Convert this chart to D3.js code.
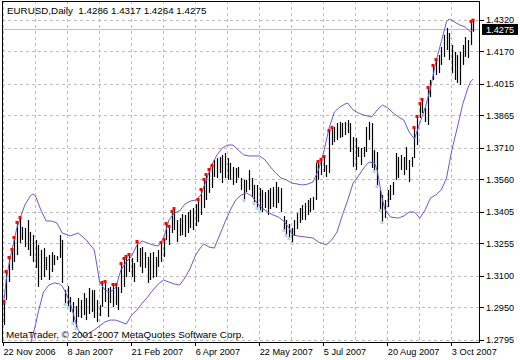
<!DOCTYPE html>
<html><head><meta charset="utf-8">
<script src="https://cdn.jsdelivr.net/npm/d3@7/dist/d3.min.js"></script>
<style>html,body{margin:0;padding:0;background:#fff;}svg{display:block;}text{font-family:"Liberation Sans",Arial,sans-serif;}</style>
</head><body><svg id="c" width="520" height="360"></svg>
<script>
// ---- data (EURUSD daily bars, high/low) ----
const highs = [1.2976,1.3119,1.3186,1.3224,1.3281,1.3353,1.3376,1.3334,1.3329,1.3367,1.3310,1.3295,1.3272,1.3248,1.3224,1.3233,1.3191,1.3200,1.3214,1.3200,1.3195,1.3295,1.3272,1.3033,1.3052,1.3000,1.2976,1.2957,1.2995,1.2986,1.3019,1.2995,1.3043,1.3033,1.3033,1.2986,1.2962,1.3067,1.3071,1.3043,1.3048,1.3057,1.3057,1.3048,1.3157,1.3181,1.3191,1.3200,1.3186,1.3162,1.3262,1.3233,1.3238,1.3214,1.3191,1.3210,1.3214,1.3191,1.3224,1.3257,1.3272,1.3348,1.3334,1.3405,1.3419,1.3367,1.3376,1.3395,1.3391,1.3405,1.3415,1.3424,1.3443,1.3462,1.3510,1.3558,1.3581,1.3605,1.3624,1.3653,1.3662,1.3667,1.3677,1.3686,1.3662,1.3639,1.3620,1.3615,1.3620,1.3567,1.3558,1.3558,1.3605,1.3567,1.3534,1.3534,1.3519,1.3510,1.3500,1.3510,1.3519,1.3524,1.3548,1.3524,1.3519,1.3386,1.3367,1.3348,1.3329,1.3367,1.3400,1.3424,1.3438,1.3448,1.3462,1.3472,1.3477,1.3639,1.3643,1.3653,1.3667,1.3629,1.3791,1.3805,1.3810,1.3829,1.3834,1.3829,1.3834,1.3843,1.3829,1.3762,1.3758,1.3715,1.3710,1.3715,1.3810,1.3834,1.3829,1.3700,1.3691,1.3510,1.3486,1.3462,1.3510,1.3534,1.3548,1.3686,1.3667,1.3677,1.3667,1.3715,1.3653,1.3667,1.3805,1.3858,1.3920,1.3939,1.3901,1.3996,1.4034,1.4101,1.4129,1.4153,1.4191,1.4249,1.4282,1.4258,1.4201,1.4168,1.4153,1.4168,1.4201,1.4239,1.4225,1.4311,1.4317];
const lows = [1.2867,1.2986,1.3071,1.3129,1.3167,1.3200,1.3257,1.3272,1.3238,1.3224,1.3195,1.3167,1.3138,1.3048,1.3081,1.3095,1.3129,1.3081,1.3119,1.3152,1.3176,1.3186,1.3067,1.2967,1.2952,1.2928,1.2876,1.2852,1.2905,1.2900,1.2914,1.2890,1.2919,1.2928,1.2900,1.2881,1.2909,1.2952,1.2976,1.2905,1.2971,1.2952,1.2962,1.2938,1.3019,1.3048,1.3095,1.3119,1.3095,1.3071,1.3167,1.3143,1.3114,1.3138,1.3067,1.3081,1.3091,1.3095,1.3143,1.3167,1.3191,1.3272,1.3248,1.3305,1.3319,1.3262,1.3291,1.3295,1.3286,1.3305,1.3329,1.3319,1.3338,1.3357,1.3391,1.3424,1.3462,1.3496,1.3519,1.3572,1.3567,1.3591,1.3543,1.3567,1.3558,1.3558,1.3534,1.3543,1.3567,1.3510,1.3462,1.3500,1.3510,1.3477,1.3448,1.3424,1.3410,1.3405,1.3424,1.3391,1.3419,1.3429,1.3424,1.3448,1.3405,1.3319,1.3295,1.3281,1.3257,1.3291,1.3324,1.3353,1.3367,1.3367,1.3391,1.3405,1.3415,1.3462,1.3558,1.3581,1.3596,1.3572,1.3591,1.3724,1.3739,1.3748,1.3758,1.3762,1.3772,1.3781,1.3691,1.3620,1.3605,1.3667,1.3629,1.3667,1.3691,1.3748,1.3615,1.3600,1.3529,1.3415,1.3357,1.3376,1.3429,1.3462,1.3486,1.3558,1.3567,1.3605,1.3581,1.3605,1.3548,1.3620,1.3662,1.3724,1.3853,1.3877,1.3834,1.3820,1.3953,1.4034,1.4058,1.4067,1.4106,1.4144,1.4177,1.4129,1.4067,1.4034,1.4020,1.4010,1.4106,1.4144,1.4139,1.4201,1.4264];
// bars flagged by the indicator: red above the high, light blue below the low
const redMarks = [0,1,2,3,4,5,6,37,38,41,42,44,45,46,47,50,59,60,61,62,63,64,73,74,75,76,77,78,118,119,120,122,123,154,155,156,157,159,161,162,175,176];
const blueMarks = [23,24,26,27,90,94,95,96,105,106,107,108,139,140,141,142];
// Bollinger bands: [bar index, price]
const upperBand = [[0,1.2962],[1,1.3081],[2,1.3152],[3,1.3214],[4,1.3272],[5,1.3329],[6,1.3367],[8,1.3438],[10,1.3481],[11,1.3491],[12,1.3481],[14,1.3415],[16,1.3362],[18,1.3362],[20,1.3353],[22,1.3305],[25,1.3291],[28,1.3305],[31,1.3272],[34,1.3224],[35,1.3152],[36,1.3071],[38,1.3033],[40,1.3024],[42,1.3043],[44,1.3129],[46,1.3167],[48,1.3195],[50,1.3248],[52,1.3267],[54,1.3257],[56,1.3248],[58,1.3243],[60,1.3281],[62,1.3367],[64,1.3400],[66,1.3410],[68,1.3443],[70,1.3457],[72,1.3462],[74,1.3486],[76,1.3558],[78,1.3629],[80,1.3677],[82,1.3710],[84,1.3724],[86,1.3724],[88,1.3700],[90,1.3677],[92,1.3672],[96,1.3672],[98,1.3653],[100,1.3620],[102,1.3591],[104,1.3567],[106,1.3558],[108,1.3543],[112,1.3534],[114,1.3538],[116,1.3548],[118,1.3605],[120,1.3691],[122,1.3805],[124,1.3882],[126,1.3905],[128,1.3920],[129,1.3924],[131,1.3891],[133,1.3877],[135,1.3867],[138,1.3858],[140,1.3891],[142,1.3915],[144,1.3901],[146,1.3877],[148,1.3858],[150,1.3843],[152,1.3786],[154,1.3753],[156,1.3829],[158,1.3901],[160,1.3996],[162,1.4120],[164,1.4215],[166,1.4311],[167,1.4325],[169,1.4311],[171,1.4296],[173,1.4287],[175,1.4263],[176,1.4277]];
const lowerBand = [[8,1.2700],[10,1.2771],[12,1.2867],[13,1.2928],[15,1.3024],[17,1.3057],[19,1.3067],[21,1.3062],[22,1.3052],[23,1.3029],[25,1.2971],[26,1.2928],[27,1.2881],[28,1.2843],[30,1.2809],[32,1.2828],[34,1.2843],[36,1.2862],[38,1.2881],[40,1.2890],[42,1.2890],[44,1.2881],[46,1.2871],[48,1.2914],[50,1.2938],[52,1.2971],[54,1.3000],[56,1.3033],[58,1.3062],[60,1.3081],[62,1.3071],[64,1.3062],[66,1.3057],[68,1.3091],[70,1.3138],[72,1.3200],[74,1.3238],[75,1.3253],[77,1.3238],[79,1.3233],[81,1.3295],[83,1.3357],[85,1.3415],[87,1.3462],[89,1.3486],[91,1.3496],[93,1.3481],[95,1.3448],[97,1.3424],[99,1.3405],[101,1.3391],[103,1.3381],[105,1.3362],[107,1.3329],[108,1.3300],[110,1.3291],[113,1.3286],[116,1.3281],[118,1.3262],[121,1.3248],[123,1.3272],[125,1.3310],[127,1.3391],[129,1.3462],[131,1.3543],[133,1.3577],[135,1.3615],[137,1.3643],[139,1.3639],[140,1.3605],[141,1.3534],[142,1.3462],[143,1.3415],[145,1.3381],[148,1.3376],[150,1.3386],[152,1.3405],[154,1.3405],[156,1.3376],[158,1.3415],[160,1.3472],[162,1.3486],[164,1.3510],[166,1.3567],[168,1.3700],[170,1.3805],[172,1.3915],[174,1.3996],[175,1.4025],[176,1.4039]];
const priceTicks = [1.2795,1.2950,1.3100,1.3255,1.3405,1.3560,1.3710,1.3865,1.4015,1.4170,1.4320];
const dateLabels = ["22 Nov 2006","8 Jan 2007","21 Feb 2007","6 Apr 2007","22 May 2007","5 Jul 2007","20 Aug 2007","3 Oct 2007"];
const dateIdx = [0,24,48,72,96,120,144,168];
const gridIdx = [0,12,24,36,48,60,72,84,96,108,120,132,144,156,168];
const symbol = "EURUSD,Daily";
const lastOHLC = ["1.4286","1.4317","1.4264","1.4275"];
const bid = 1.4275;

// ---- layout ----
const L=2, R=480, T=1, B=342;
const svg = d3.select("#c");
const x = d3.scaleLinear().domain([0,176]).range([3.5,473.2]);
const y = d3.scaleLinear().domain([1.2795,1.4320]).range([340,20]);
const px = i => Math.round(x(i)) + 0.5;

svg.append("rect").attr("width",520).attr("height",360).attr("fill","#fff");
svg.append("clipPath").attr("id","clip").append("rect").attr("x",L).attr("y",T).attr("width",R-L).attr("height",B-T);
const g = svg.append("g").attr("clip-path","url(#clip)");

// grid
g.selectAll(".hg").data(priceTicks).join("line")
  .attr("x1",L).attr("x2",R).attr("y1",d=>Math.round(y(d))+0.5).attr("y2",d=>Math.round(y(d))+0.5)
  .attr("stroke","#bdbdbd").attr("stroke-dasharray","3,3");
g.selectAll(".vg").data(gridIdx).join("line")
  .attr("x1",d=>Math.round(x(d)-0.5)+0.5).attr("x2",d=>Math.round(x(d)-0.5)+0.5).attr("y1",T).attr("y2",B)
  .attr("stroke","#bdbdbd").attr("stroke-dasharray","3,3");

// bid line
g.append("line").attr("x1",L).attr("x2",R).attr("y1",Math.round(y(bid))+0.5).attr("y2",Math.round(y(bid))+0.5)
  .attr("stroke","#c0c0c0");

// bars
g.selectAll(".bar").data(highs).join("line")
  .attr("x1",(d,i)=>px(i)).attr("x2",(d,i)=>px(i))
  .attr("y1",d=>y(d)).attr("y2",(d,i)=>y(lows[i]))
  .attr("stroke","#000").attr("stroke-width",1.2);

// bands
const line = d3.line().x(d=>x(d[0])).y(d=>y(d[1]));
g.append("path").attr("d",line(upperBand)).attr("fill","none").attr("stroke","#6a5acd").attr("stroke-width",1);
g.append("path").attr("d",line(lowerBand)).attr("fill","none").attr("stroke","#6a5acd").attr("stroke-width",1);

// markers
g.selectAll(".rm").data(redMarks).join("rect")
  .attr("x",i=>px(i)-2).attr("y",i=>y(highs[i])-2).attr("width",3).attr("height",3).attr("fill","#ff0000");
g.selectAll(".bm").data(blueMarks).join("rect")
  .attr("x",i=>px(i)-2).attr("y",i=>y(lows[i])-1).attr("width",3).attr("height",3).attr("fill","#add8e6");

// frame
svg.append("rect").attr("x",L+0.5).attr("y",T+0.5).attr("width",R-L-1).attr("height",B-T).attr("fill","none").attr("stroke","#000");

// y axis
const fs = 9.2;
svg.selectAll(".yt").data(priceTicks).join("line")
  .attr("x1",R).attr("x2",R+4).attr("y1",d=>Math.round(y(d))+0.5).attr("y2",d=>Math.round(y(d))+0.5).attr("stroke","#000");
svg.selectAll(".yl").data(priceTicks).join("text")
  .attr("x",R+6).attr("y",d=>y(d)+3.3).attr("font-size",fs).attr("fill","#000").text(d=>d.toFixed(4));
// bid label
svg.append("rect").attr("x",R+2).attr("y",y(bid)-5.5).attr("width",36).attr("height",11).attr("fill","#000");
svg.append("text").attr("x",R+6).attr("y",y(bid)+3.3).attr("font-size",fs).attr("fill","#fff").text(bid.toFixed(4));

// x axis
svg.selectAll(".xt").data(dateIdx).join("line")
  .attr("x1",d=>Math.round(x(d)-0.5)+0.5).attr("x2",d=>Math.round(x(d)-0.5)+0.5).attr("y1",B).attr("y2",B+4).attr("stroke","#000");
svg.selectAll(".xl").data(dateIdx).join("text")
  .attr("x",(d)=>x(d)).attr("y",355).attr("font-size",fs).attr("fill","#000").text((d,i)=>dateLabels[i]);

// title & copyright
svg.append("text").attr("x",7).attr("y",14).attr("font-size",fs+0.6).attr("fill","#000")
  .text(symbol + "  " + lastOHLC.join(" ")).attr("xml:space","preserve");
svg.append("text").attr("x",6).attr("y",338).attr("font-size",9.9).attr("fill","#000")
  .text("MetaTrader, \u00A9 2001-2007 MetaQuotes Software Corp.");
</script></body></html>
